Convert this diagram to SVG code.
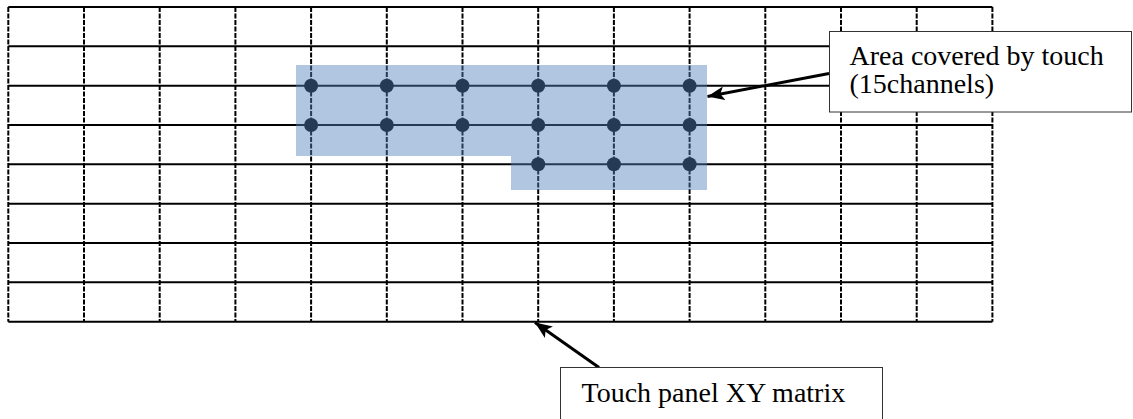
<svg xmlns="http://www.w3.org/2000/svg" width="1133" height="419" viewBox="0 0 1133 419">
  <style>
    .h { stroke: #000; stroke-width: 2; fill: none; }
    .v { stroke: #000; stroke-width: 2; fill: none; stroke-dasharray: 5 1.5; }
    .dot { fill: #000; }
    .box { fill: #fff; stroke: #333; stroke-width: 1; }
    .lbl { font-family: "Liberation Serif", "Times New Roman", serif; font-size: 28px; fill: #000; }
    .conn { stroke: #000; stroke-width: 3; fill: none; }
  </style>
  <defs>
    <marker id="arrow" markerUnits="userSpaceOnUse" markerWidth="20" markerHeight="14" refX="17" refY="7" orient="auto">
      <path d="M0,0 L17,7 L0,14 L4,7 Z" fill="#000"/>
    </marker>
  </defs>
  <rect width="1133" height="419" fill="#fff"/>
  <g id="grid">
    <line class="h" x1="8.3" y1="7" x2="992.4" y2="7"/>
    <line class="h" x1="8.3" y1="46.3" x2="992.4" y2="46.3"/>
    <line class="h" x1="8.3" y1="85.7" x2="992.4" y2="85.7"/>
    <line class="h" x1="8.3" y1="125" x2="992.4" y2="125"/>
    <line class="h" x1="8.3" y1="164.3" x2="992.4" y2="164.3"/>
    <line class="h" x1="8.3" y1="203.7" x2="992.4" y2="203.7"/>
    <line class="h" x1="8.3" y1="243" x2="992.4" y2="243"/>
    <line class="h" x1="8.3" y1="282.3" x2="992.4" y2="282.3"/>
    <line class="h" x1="8.3" y1="321.7" x2="992.4" y2="321.7"/>
    <line class="v" x1="8.3" y1="7" x2="8.3" y2="321.7"/>
    <line class="v" x1="84" y1="7" x2="84" y2="321.7"/>
    <line class="v" x1="159.7" y1="7" x2="159.7" y2="321.7"/>
    <line class="v" x1="235.4" y1="7" x2="235.4" y2="321.7"/>
    <line class="v" x1="311.1" y1="7" x2="311.1" y2="321.7"/>
    <line class="v" x1="386.8" y1="7" x2="386.8" y2="321.7"/>
    <line class="v" x1="462.5" y1="7" x2="462.5" y2="321.7"/>
    <line class="v" x1="538.2" y1="7" x2="538.2" y2="321.7"/>
    <line class="v" x1="613.9" y1="7" x2="613.9" y2="321.7"/>
    <line class="v" x1="689.6" y1="7" x2="689.6" y2="321.7"/>
    <line class="v" x1="765.3" y1="7" x2="765.3" y2="321.7"/>
    <line class="v" x1="841" y1="7" x2="841" y2="321.7"/>
    <line class="v" x1="916.7" y1="7" x2="916.7" y2="321.7"/>
    <line class="v" x1="992.4" y1="7" x2="992.4" y2="321.7"/>
  </g>
  <g id="touch-area">
    <g>
      <circle class="dot" cx="311.1" cy="85.7" r="7"/>
      <circle class="dot" cx="386.8" cy="85.7" r="7"/>
      <circle class="dot" cx="462.5" cy="85.7" r="7"/>
      <circle class="dot" cx="538.2" cy="85.7" r="7"/>
      <circle class="dot" cx="613.9" cy="85.7" r="7"/>
      <circle class="dot" cx="689.6" cy="85.7" r="7"/>
      <circle class="dot" cx="311.1" cy="125" r="7"/>
      <circle class="dot" cx="386.8" cy="125" r="7"/>
      <circle class="dot" cx="462.5" cy="125" r="7"/>
      <circle class="dot" cx="538.2" cy="125" r="7"/>
      <circle class="dot" cx="613.9" cy="125" r="7"/>
      <circle class="dot" cx="689.6" cy="125" r="7"/>
      <circle class="dot" cx="538.2" cy="164.3" r="7"/>
      <circle class="dot" cx="613.9" cy="164.3" r="7"/>
      <circle class="dot" cx="689.6" cy="164.3" r="7"/>
    </g>
    <polygon points="296,65 707,65 707,190 511,190 511,156 296,156" fill="#4F81BD" fill-opacity="0.45"/>
  </g>
  <g id="connectors">
    <line class="conn" x1="829" y1="73.5" x2="707.5" y2="96.5" marker-end="url(#arrow)"/>
    <line class="conn" x1="599" y1="367.5" x2="535" y2="322.5" marker-end="url(#arrow)"/>
  </g>
  <g id="label-area">
    <rect class="box" x="829.5" y="31.5" width="302" height="80.5"/>
    <text class="lbl" x="849.5" y="65">Area covered by touch</text>
    <text class="lbl" x="849.5" y="93">(15channels)</text>
  </g>
  <g id="label-matrix">
    <rect class="box" x="560.5" y="367.5" width="322" height="60"/>
    <text class="lbl" x="581.5" y="402">Touch panel XY matrix</text>
  </g>
</svg>
